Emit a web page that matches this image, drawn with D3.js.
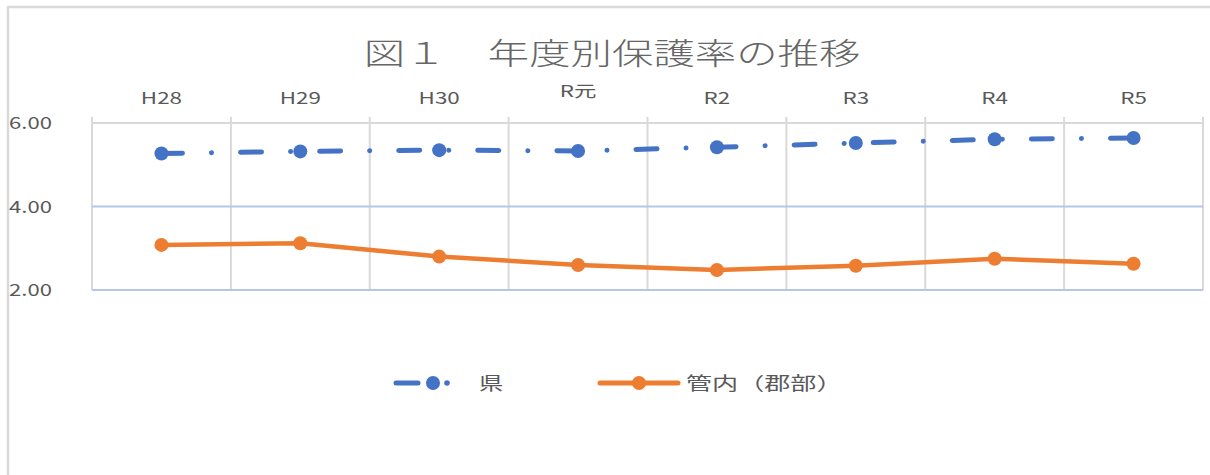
<!DOCTYPE html>
<html>
<head>
<meta charset="utf-8">
<script src="https://cdn.jsdelivr.net/npm/d3@7"></script>
<style>
  html, body { margin: 0; padding: 0; background: #fff; }
  svg { display: block; }
</style>
</head>
<body>
<script>
// Data
const categories = ["H28", "H29", "H30", "R元", "R2", "R3", "R4", "R5"];
const prefValues = [5.27, 5.32, 5.35, 5.33, 5.42, 5.52, 5.61, 5.64];
const districtValues = [3.08, 3.12, 2.80, 2.60, 2.48, 2.58, 2.75, 2.63];
const yTicks = [2, 4, 6];
const seriesNames = ["県", "管内（郡部）"];

const width = 1210, height = 475;
const plot = { left: 92, right: 1203, top: 123, bottom: 290 };
const font = "'Noto Sans CJK JP', 'Noto Sans', sans-serif";
const textColor = "#595959";
const colors = { pref: "#4472c4", district: "#ed7d31" };

const svg = d3.select("body").append("svg")
    .attr("width", width)
    .attr("height", height);

// text in the reference is stretched horizontally, so scale x
function stretched(sel, xPos, yPos, sx) {
    return sel.attr("transform", `translate(${xPos},${yPos}) scale(${sx},1)`);
}

// Chart area border
svg.append("rect")
    .attr("x", 8).attr("y", 7)
    .attr("width", width + 20).attr("height", height + 20)
    .attr("fill", "#fff")
    .attr("stroke", "#d9d9d9")
    .attr("stroke-width", 2.5);

// Scales
const x = d3.scaleBand()
    .domain(categories)
    .range([plot.left, plot.right]);

const y = d3.scaleLinear()
    .domain([2, 6])
    .range([plot.bottom, plot.top]);

// Title
svg.append("text")
    .call(stretched, 612, 64, 1.38)
    .attr("text-anchor", "middle")
    .style("font-family", font)
    .style("font-size", "30px")
    .style("font-weight", 300)
    .style("fill", "#666")
    .text("図１　年度別保護率の推移");

// Vertical gridlines at category boundaries (with tick marks above the axis)
const boundaries = categories.map(c => x(c)).concat([x.range()[1]]);
svg.append("g").selectAll("line")
    .data(boundaries)
    .join("line")
    .attr("x1", d => d).attr("x2", d => d)
    .attr("y1", plot.top - 6).attr("y2", plot.bottom)
    .attr("stroke", "#d9d9d9")
    .attr("stroke-width", 2);

// Horizontal gridlines
svg.append("g").selectAll("line")
    .data(yTicks.filter(t => t < 6))
    .join("line")
    .attr("x1", plot.left).attr("x2", plot.right)
    .attr("y1", d => y(d)).attr("y2", d => y(d))
    .attr("stroke", "#b4c7e7")
    .attr("stroke-width", 2);

// Category axis line on top
svg.append("line")
    .attr("x1", plot.left).attr("x2", plot.right)
    .attr("y1", y(6)).attr("y2", y(6))
    .attr("stroke", "#d9d9d9")
    .attr("stroke-width", 2);

// Y tick labels
svg.append("g").selectAll("text")
    .data(yTicks)
    .join("text")
    .each(function(d) { stretched(d3.select(this), 9, y(d) + 6, 1.3); })
    .style("font-family", font)
    .style("font-size", "17px")
    .style("fill", textColor)
    .text(d => d3.format(".2f")(d));

// Category labels
svg.append("g").selectAll("text")
    .data(categories)
    .join("text")
    .each(function(d) {
        stretched(d3.select(this), x(d) + x.bandwidth() / 2, d === "R元" ? 97 : 104, 1.4);
    })
    .attr("text-anchor", "middle")
    .style("font-family", font)
    .style("font-size", "16px")
    .style("fill", textColor)
    .text(d => d);

const cx = (d, i) => x(categories[i]) + x.bandwidth() / 2;
const line = d3.line().x(cx).y(d => y(d));

// 管内（郡部） series
svg.append("path")
    .datum(districtValues)
    .attr("d", line)
    .attr("fill", "none")
    .attr("stroke", colors.district)
    .attr("stroke-width", 4.5)
    .attr("stroke-linejoin", "round");

svg.append("g").selectAll("circle")
    .data(districtValues)
    .join("circle")
    .attr("cx", cx)
    .attr("cy", d => y(d))
    .attr("r", 7)
    .attr("fill", colors.district);

// 県 series (long dash-dot)
svg.append("path")
    .datum(prefValues)
    .attr("d", line)
    .attr("fill", "none")
    .attr("stroke", colors.pref)
    .attr("stroke-width", 5)
    .attr("stroke-linecap", "round")
    .attr("stroke-dasharray", "21,29,0.1,29");

svg.append("g").selectAll("circle")
    .data(prefValues)
    .join("circle")
    .attr("cx", cx)
    .attr("cy", d => y(d))
    .attr("r", 7)
    .attr("fill", colors.pref);

// Legend
const legend = svg.append("g");
const legendY = 383;

legend.append("line")
    .attr("x1", 396).attr("x2", 418)
    .attr("y1", legendY).attr("y2", legendY)
    .attr("stroke", colors.pref)
    .attr("stroke-width", 5)
    .attr("stroke-linecap", "round");
legend.append("circle")
    .attr("cx", 433).attr("cy", legendY).attr("r", 7)
    .attr("fill", colors.pref);
legend.append("circle")
    .attr("cx", 447).attr("cy", legendY).attr("r", 2.8)
    .attr("fill", colors.pref);
legend.append("text")
    .call(stretched, 479, legendY + 7, 1.35)
    .style("font-family", font)
    .style("font-size", "18px")
    .style("fill", textColor)
    .text(seriesNames[0]);

legend.append("line")
    .attr("x1", 600).attr("x2", 678)
    .attr("y1", legendY).attr("y2", legendY)
    .attr("stroke", colors.district)
    .attr("stroke-width", 5)
    .attr("stroke-linecap", "round");
legend.append("circle")
    .attr("cx", 639).attr("cy", legendY).attr("r", 7)
    .attr("fill", colors.district);
legend.append("text")
    .call(stretched, 686, legendY + 7, 1.45)
    .style("font-family", font)
    .style("font-size", "18px")
    .style("fill", textColor)
    .text(seriesNames[1]);
</script>
</body>
</html>
